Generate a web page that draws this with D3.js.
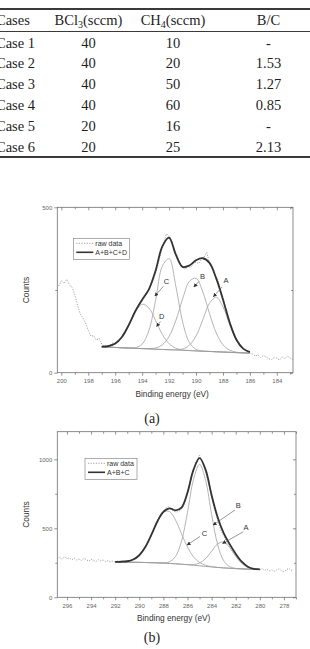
<!DOCTYPE html>
<html>
<head>
<meta charset="utf-8">
<script src="https://cdn.jsdelivr.net/npm/d3@7"></script>
<style>
  body { margin: 0; background: #fff; }
  svg { display: block; }
</style>
</head>
<body>
<div id="chart"></div>
<script>
// ---- table data ----
const caseNames = ["Case 1", "Case 2", "Case 3", "Case 4", "Case 5", "Case 6"];
const bcl3Flow = [40, 40, 40, 40, 20, 20];
const ch4Flow = [10, 20, 50, 60, 16, 25];
const bcRatio = ["-", "1.53", "1.27", "0.85", "-", "2.13"];

// ---- spectrum (a): B 1s ----
const aTicksX = [200, 198, 196, 194, 192, 190, 188, 186, 184];
const aTicksY = [0, 500];
const aFitE = [197, 196.5, 196, 195.5, 195, 194.5, 194, 193.5, 193, 192.5, 192, 191.5, 191, 190.5, 190, 189.5, 189, 188.5, 188, 187.5, 187, 186.5, 186];
const aBaseline = [78.0, 77.1, 76.3, 75.4, 74.5, 73.7, 72.8, 72.0, 71.1, 70.2, 69.4, 68.5, 67.6, 66.8, 65.9, 65.0, 64.2, 63.3, 62.5, 61.6, 60.7, 59.9, 59.0];
const aPeakD = [78.7, 80.3, 88.0, 108.1, 143.6, 184.3, 207.0, 195.6, 157.3, 115.8, 87.7, 74.0, 68.9, 67.0, 65.9, 65.0, 64.2, 63.3, 62.5, 61.6, 60.7, 59.9, 59.0];
const aPeakC = [78.0, 77.1, 76.3, 75.4, 74.7, 75.8, 86.2, 127.6, 218.9, 322.2, 344.8, 261.6, 154.3, 91.8, 70.5, 65.5, 64.2, 63.3, 62.5, 61.6, 60.7, 59.9, 59.0];
const aPeakB = [78.0, 77.1, 76.3, 75.4, 74.5, 73.7, 72.9, 72.8, 74.9, 84.2, 109.5, 157.7, 222.3, 275.7, 285.4, 244.8, 178.8, 120.2, 84.5, 68.2, 62.2, 60.2, 59.0];
const aPeakA = [78.0, 77.1, 76.3, 75.4, 74.5, 73.7, 72.8, 72.0, 71.1, 70.2, 69.5, 69.2, 71.6, 82.6, 111.0, 159.6, 209.8, 228.1, 199.5, 145.1, 98.1, 72.3, 62.0];
const aEnvelope = [78.7, 80.3, 88.0, 108.1, 143.8, 186.4, 220.5, 252.0, 308.9, 381.8, 408.0, 357.0, 320.0, 324.0, 340.0, 346.0, 332.0, 285.0, 221.5, 151.7, 99.6, 72.6, 62.0];
const aRaw = [
  [200.2, 262], [200.0, 278], [199.8, 270], [199.6, 282], [199.4, 266], [199.2, 258], [199.0, 236], [198.8, 205],
  [198.6, 178], [198.4, 165], [198.2, 150], [198.0, 128], [197.8, 110], [197.6, 112], [197.4, 98], [197.2, 104],
  [197.0, 86], [196.8, 80], [196.6, 82], [196.4, 84], [196.2, 90], [196.0, 86], [195.8, 98], [195.6, 104],
  [195.4, 118], [195.2, 128], [195.0, 140], [194.8, 162], [194.6, 180], [194.4, 196], [194.2, 210], [194.0, 222],
  [193.8, 238], [193.6, 246], [193.4, 262], [193.2, 280], [193.0, 300], [192.8, 330], [192.6, 362], [192.4, 392],
  [192.2, 420], [192.0, 412], [191.8, 396], [191.6, 372], [191.4, 352], [191.2, 326], [191.0, 318], [190.8, 312],
  [190.6, 322], [190.4, 318], [190.2, 330], [190.0, 334], [189.8, 330], [189.6, 342], [189.4, 350], [189.2, 364],
  [189.0, 330], [188.8, 316], [188.6, 296], [188.4, 282], [188.2, 252], [188.0, 228], [187.8, 196], [187.6, 170],
  [187.4, 140], [187.2, 120], [187.0, 100], [186.8, 90], [186.6, 76], [186.4, 70], [186.2, 62], [186.0, 58],
  [185.8, 56], [185.6, 50], [185.4, 54], [185.2, 46], [185.0, 52], [184.8, 48], [184.6, 42], [184.4, 40],
  [184.2, 46], [184.0, 44], [183.8, 38], [183.6, 48], [183.4, 42], [183.2, 50], [183.0, 44], [182.8, 40]
];
// label text, label position (eV, counts), arrow start and tip (eV, counts)
const aNotes = [
  ["C", [192.19, 277], [192.43, 261], [193.05, 232]],
  ["D", [192.55, 171], [192.64, 155], [192.92, 140]],
  ["B", [189.52, 291], [189.78, 276], [190.15, 260]],
  ["A", [187.78, 279], [188.07, 259], [188.7, 230]]
];

// ---- spectrum (b): C 1s ----
const bTicksX = [296, 294, 292, 290, 288, 286, 284, 282, 280, 278];
const bTicksY = [0, 500, 1000];
const bFitE = [292, 291.5, 291, 290.5, 290, 289.5, 289, 288.5, 288, 287.5, 287, 286.5, 286, 285.5, 285, 284.5, 284, 283.5, 283, 282.5, 282, 281.5, 281, 280.5, 280];
const bBaseline = [257, 256, 255, 254, 253, 252, 251, 249.5, 248, 245.5, 243, 239.5, 236, 232, 228, 224, 220, 216.5, 213, 210.5, 208, 206, 204, 203, 202];
const bPeakC = [257.4, 257.6, 261.2, 273.7, 304.7, 364.2, 452.6, 549.4, 617.2, 621.8, 560.4, 461.1, 364.1, 293.3, 252.3, 232.0, 222.2, 217.0, 213.1, 210.5, 208, 206, 204, 203, 202];
const bPeakB = [257, 256, 255, 254, 253, 252, 251, 249.7, 249.9, 257.3, 295.3, 405.8, 615.7, 855.1, 963, 847.1, 599.7, 382.8, 265.3, 222.3, 209.9, 206.2, 204, 203, 202];
const bPeakA = [257, 256, 255, 254, 253, 252, 251, 249.5, 248, 245.5, 243, 239.6, 237.0, 237.4, 248.3, 280.0, 334.0, 386.8, 399.8, 361.0, 297.1, 244.7, 216.4, 205.9, 202.5];
const bEnvelope = [257.4, 257.6, 261.2, 273.7, 304.7, 364.2, 452.6, 549.6, 619.1, 645, 630, 650, 760, 925, 1008, 925, 740, 580, 465, 385, 315, 258, 222, 206, 202.5];
const bRaw = [
  [296.8, 282], [296.6, 290], [296.4, 276], [296.2, 294], [296.0, 280], [295.8, 286], [295.6, 272], [295.4, 284],
  [295.2, 270], [295.0, 278], [294.8, 266], [294.6, 282], [294.4, 274], [294.2, 262], [294.0, 276], [293.8, 268],
  [293.6, 258], [293.4, 272], [293.2, 264], [293.0, 270], [292.8, 258], [292.6, 266], [292.4, 256], [292.2, 262],
  [292.0, 258], [291.8, 262], [291.6, 254], [291.4, 266], [291.2, 258], [291.0, 264], [290.8, 262], [290.6, 276],
  [290.4, 280], [290.2, 292], [290.0, 308], [289.8, 326], [289.6, 352], [289.4, 378], [289.2, 410], [289.0, 448],
  [288.8, 492], [288.6, 534], [288.4, 572], [288.2, 604], [288.0, 628], [287.8, 646], [287.6, 660], [287.4, 640],
  [287.2, 628], [287.0, 618], [286.8, 620], [286.6, 630], [286.4, 650], [286.2, 694], [286.0, 748], [285.8, 820],
  [285.6, 890], [285.4, 950], [285.2, 992], [285.0, 1030], [284.8, 986], [284.6, 940], [284.4, 874], [284.2, 806],
  [284.0, 724], [283.8, 650], [283.6, 590], [283.4, 526], [283.2, 478], [283.0, 448], [282.8, 410], [282.6, 382],
  [282.4, 352], [282.2, 322], [282.0, 298], [281.8, 280], [281.6, 258], [281.4, 244], [281.2, 236], [281.0, 222],
  [280.8, 214], [280.6, 210], [280.4, 204], [280.2, 206], [280.0, 200], [279.8, 208], [279.6, 196], [279.4, 204],
  [279.2, 192], [279.0, 200], [278.8, 188], [278.6, 198], [278.4, 206], [278.2, 192], [278.0, 186], [277.8, 200],
  [277.6, 210], [277.4, 194], [277.2, 202]
];
const bNotes = [
  ["B", [281.79, 669], [282.06, 633], [283.86, 524]],
  ["A", [281.15, 504], [281.37, 475], [283.08, 390]],
  ["C", [284.59, 462], [284.96, 441], [286.02, 380]]
];

const svg = d3.select("#chart").append("svg")
  .attr("width", 310)
  .attr("height", 649)
  .style("background", "#fff");

// arrow head used by the peak labels
svg.append("defs").append("marker")
  .attr("id", "arrowHead")
  .attr("viewBox", "0 0 6 6")
  .attr("refX", 5).attr("refY", 3)
  .attr("markerWidth", 4).attr("markerHeight", 4)
  .attr("markerUnits", "userSpaceOnUse")
  .attr("orient", "auto")
  .append("path")
  .attr("d", "M0,0 L6,3 L0,6 z")
  .attr("fill", "#333");

// ================= table =================
const colX = d3.scaleOrdinal().domain(["case", "bcl3", "ch4", "bc"]).range([-4, 88.5, 173, 268.5]);
const rowY = d3.scalePoint().domain(caseNames).range([47.5, 151.5]);

const table = svg.append("g")
  .attr("font-family", "'Liberation Serif', 'Times New Roman', serif")
  .attr("font-size", 14.5)
  .attr("fill", "#1e1e1e");

//rules of the table
[[9, 2], [31.5, 1], [157, 2]].forEach(([ry, w]) => {
  table.append("line")
    .attr("x1", 0).attr("x2", 310)
    .attr("y1", ry).attr("y2", ry)
    .attr("stroke", "#3a3a3a")
    .attr("stroke-width", w);
});

//header row
table.append("text").attr("x", colX("case")).attr("y", 25).text("Cases");
const headBcl = table.append("text").attr("x", colX("bcl3")).attr("y", 25).attr("text-anchor", "middle");
headBcl.append("tspan").text("BCl");
headBcl.append("tspan").attr("dy", 3).attr("font-size", 10).text("3");
headBcl.append("tspan").attr("dy", -3).text("(sccm)");
const headCh = table.append("text").attr("x", colX("ch4")).attr("y", 25).attr("text-anchor", "middle");
headCh.append("tspan").text("CH");
headCh.append("tspan").attr("dy", 3).attr("font-size", 10).text("4");
headCh.append("tspan").attr("dy", -3).text("(sccm)");
table.append("text").attr("x", colX("bc")).attr("y", 25).attr("text-anchor", "middle").text("B/C");

//body rows
caseNames.forEach((name, i) => {
  let yy = rowY(name);
  table.append("text").attr("x", colX("case")).attr("y", yy).text(name);
  table.append("text").attr("x", colX("bcl3")).attr("y", yy).attr("text-anchor", "middle").text(bcl3Flow[i]);
  table.append("text").attr("x", colX("ch4")).attr("y", yy).attr("text-anchor", "middle").text(ch4Flow[i]);
  table.append("text").attr("x", colX("bc")).attr("y", yy).attr("text-anchor", "middle").text(bcRatio[i]);
});

// ================= spectra =================
const drawSpectrum = function(cfg) {
  const x = d3.scaleLinear().domain(cfg.xDomain).range([cfg.left, cfg.right]);
  const y = d3.scaleLinear().domain(cfg.yDomain).range([cfg.bottom, cfg.top]);
  const g = svg.append("g")
    .attr("font-family", "'Liberation Sans', Arial, sans-serif");

  const xMinor = d3.range(Math.ceil(cfg.xDomain[1]), Math.floor(cfg.xDomain[0]) + 1, 1)
    .filter(v => !cfg.xTicks.includes(v));
  const yStep = cfg.yTicks[1] - cfg.yTicks[0];
  const yMinor = cfg.yTicks.map(v => v + yStep / 2).filter(v => v < cfg.yDomain[1]);

  const tidy = sel => {
    sel.select(".domain").remove();
    sel.selectAll(".tick line").attr("stroke", "#666").attr("stroke-width", 0.7);
    sel.selectAll(".tick text").attr("fill", "#666").style("font-size", "6px");
  };

  //bottom and left axes (ticks outward)
  g.append("g").attr("transform", `translate(0,${cfg.bottom})`)
    .call(d3.axisBottom(x).tickValues(cfg.xTicks).tickSize(3).tickPadding(3).tickFormat(d3.format("d")))
    .call(tidy);
  g.append("g").attr("transform", `translate(0,${cfg.bottom})`)
    .call(d3.axisBottom(x).tickValues(xMinor).tickSize(2).tickFormat(""))
    .call(tidy);
  g.append("g").attr("transform", `translate(${cfg.left},0)`)
    .call(d3.axisLeft(y).tickValues(cfg.yTicks).tickSize(3).tickPadding(2).tickFormat(d3.format("d")))
    .call(tidy);
  g.append("g").attr("transform", `translate(${cfg.left},0)`)
    .call(d3.axisLeft(y).tickValues(yMinor).tickSize(2).tickFormat(""))
    .call(tidy);
  //mirrored top and right ticks (inward)
  g.append("g").attr("transform", `translate(0,${cfg.top})`)
    .call(d3.axisTop(x).tickValues(cfg.xTicks).tickSize(-3).tickFormat(""))
    .call(tidy);
  g.append("g").attr("transform", `translate(0,${cfg.top})`)
    .call(d3.axisTop(x).tickValues(xMinor).tickSize(-2).tickFormat(""))
    .call(tidy);
  g.append("g").attr("transform", `translate(${cfg.right},0)`)
    .call(d3.axisRight(y).tickValues(cfg.yTicks).tickSize(-3).tickFormat(""))
    .call(tidy);
  g.append("g").attr("transform", `translate(${cfg.right},0)`)
    .call(d3.axisRight(y).tickValues(yMinor).tickSize(-2).tickFormat(""))
    .call(tidy);

  //frame
  g.append("rect")
    .attr("x", cfg.left).attr("y", cfg.top)
    .attr("width", cfg.right - cfg.left)
    .attr("height", cfg.bottom - cfg.top)
    .attr("fill", "none")
    .attr("stroke", "#6e6e6e")
    .attr("stroke-width", 0.8);

  //axis titles
  g.append("text")
    .attr("x", (cfg.left + cfg.right) / 2 - 3)
    .attr("y", cfg.bottom + 24)
    .attr("text-anchor", "middle")
    .attr("fill", "#333")
    .style("font-size", "8.3px")
    .text("Binding energy (eV)");
  g.append("text")
    .attr("transform", `translate(${cfg.left - 28},${(cfg.top + cfg.bottom) / 2}) rotate(-90)`)
    .attr("text-anchor", "middle")
    .attr("fill", "#333")
    .style("font-size", "8.4px")
    .text("Counts");

  const smooth = d3.line()
    .x(d => x(d[0]))
    .y(d => y(d[1]))
    .curve(d3.curveCatmullRom.alpha(0.5));
  const straight = d3.line()
    .x(d => x(d[0]))
    .y(d => y(d[1]));
  const plot = g.append("g");

  //raw data (dotted)
  plot.append("path")
    .attr("d", straight(cfg.raw))
    .attr("fill", "none")
    .attr("stroke", "#8c8c8c")
    .attr("stroke-width", 0.8)
    .attr("stroke-dasharray", "1.2,1.4");

  //fitted components
  cfg.peaks.forEach(p => {
    plot.append("path")
      .attr("d", smooth(cfg.fitE.map((e, i) => [e, p[i]])))
      .attr("fill", "none")
      .attr("stroke", "#ababab")
      .attr("stroke-width", 0.9);
  });
  plot.append("path")
    .attr("d", smooth(cfg.fitE.map((e, i) => [e, cfg.baseline[i]])))
    .attr("fill", "none")
    .attr("stroke", "#9a9a9a")
    .attr("stroke-width", 0.9);

  //fit envelope
  plot.append("path")
    .attr("d", smooth(cfg.fitE.map((e, i) => [e, cfg.envelope[i]])))
    .attr("fill", "none")
    .attr("stroke", "#333")
    .attr("stroke-width", 1.8);

  //peak labels with arrows
  cfg.notes.forEach(([txt, at, from, to]) => {
    g.append("text")
      .attr("x", x(at[0])).attr("y", y(at[1]))
      .attr("text-anchor", "middle")
      .attr("dy", "0.35em")
      .attr("fill", "#333")
      .style("font-size", "7.5px")
      .text(txt);
    g.append("line")
      .attr("x1", x(from[0])).attr("y1", y(from[1]))
      .attr("x2", x(to[0])).attr("y2", y(to[1]))
      .attr("stroke", "#555")
      .attr("stroke-width", 0.6)
      .attr("marker-end", "url(#arrowHead)");
  });

  //legend
  const lg = g.append("g").attr("transform", `translate(${cfg.legend[0]},${cfg.legend[1]})`);
  lg.append("rect")
    .attr("width", cfg.legend[2]).attr("height", 21)
    .attr("fill", "#fff")
    .attr("stroke", "#777")
    .attr("stroke-width", 0.6);
  lg.append("line").attr("x1", 3).attr("x2", 20).attr("y1", 5).attr("y2", 5)
    .attr("stroke", "#8c8c8c").attr("stroke-width", 0.8).attr("stroke-dasharray", "1.2,1.4");
  lg.append("line").attr("x1", 3).attr("x2", 20).attr("y1", 14).attr("y2", 14)
    .attr("stroke", "#333").attr("stroke-width", 1.6);
  lg.append("text").attr("x", 22).attr("y", 5).attr("dy", "0.35em")
    .attr("fill", "#333").style("font-size", "7px").text("raw data");
  lg.append("text").attr("x", 22).attr("y", 14).attr("dy", "0.35em")
    .attr("fill", "#333").style("font-size", "7px").text(cfg.fitName);

  //panel caption
  svg.append("text")
    .attr("x", 152).attr("y", cfg.captionY)
    .attr("text-anchor", "middle")
    .attr("font-family", "'Liberation Serif', 'Times New Roman', serif")
    .attr("font-size", 14)
    .attr("fill", "#1e1e1e")
    .text(cfg.caption);
}

drawSpectrum({
  left: 57.3, right: 293, top: 207.3, bottom: 372.7,
  xDomain: [200.3, 182.8], yDomain: [0, 500],
  xTicks: aTicksX, yTicks: aTicksY,
  fitE: aFitE, baseline: aBaseline,
  peaks: [aPeakD, aPeakC, aPeakB, aPeakA],
  envelope: aEnvelope, raw: aRaw, notes: aNotes,
  legend: [73.3, 238.3, 56], fitName: "A+B+C+D",
  caption: "(a)", captionY: 423
});

drawSpectrum({
  left: 57.3, right: 296, top: 431.7, bottom: 597.3,
  xDomain: [296.8, 277], yDomain: [0, 1200],
  xTicks: bTicksX, yTicks: bTicksY,
  fitE: bFitE, baseline: bBaseline,
  peaks: [bPeakC, bPeakB, bPeakA],
  envelope: bEnvelope, raw: bRaw, notes: bNotes,
  legend: [85, 458.3, 52], fitName: "A+B+C",
  caption: "(b)", captionY: 641.5
});
</script>
</body>
</html>
